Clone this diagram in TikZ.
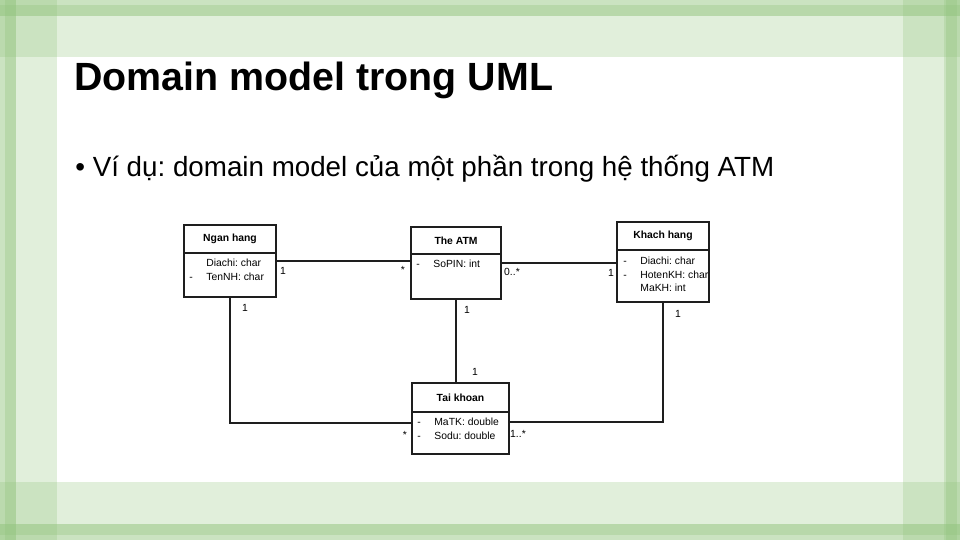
\documentclass[tikz,border=0pt]{standalone}
\usepackage{fontspec}
\setmainfont{Liberation Sans}
\usetikzlibrary{positioning,calc}
\definecolor{slGreen}{RGB}{146,196,125}
\definecolor{umlLine}{RGB}{30,30,30}
\frenchspacing

\begin{document}
\begin{tikzpicture}[x=0.02cm,y=-0.02cm,
      band/.style={fill=slGreen,fill opacity=0.27},
      stripe/.style={fill=slGreen,fill opacity=0.33},
      head/.style={draw=umlLine,line width=0.6pt,outer sep=0pt,inner sep=0pt,
                   font=\fontsize{5.9pt}{7pt}\selectfont\bfseries},
      body/.style={draw=umlLine,line width=0.6pt,outer sep=0pt,inner sep=0pt},
      attrs/.style={anchor=north west,inner sep=0pt,
                    font=\fontsize{5.9pt}{7.65pt}\selectfont},
      mult/.style={inner sep=0pt,font=\fontsize{5.9pt}{7pt}\selectfont},
      assoc/.style={draw=umlLine,line width=0.6pt}]
    \useasboundingbox (0,0) rectangle (960,540);
    \fill[white] (0,0) rectangle (960,540);
    % slide frame
    \fill[band] (0,0) rectangle (960,57);
    \fill[band] (0,0) rectangle (960,16);
    \fill[stripe] (0,5) rectangle (960,16);
    \fill[band] (0,482) rectangle (960,540);
    \fill[band] (0,524) rectangle (960,540);
    \fill[stripe] (0,524) rectangle (960,535);
    \fill[band] (0,0) rectangle (57,540);
    \fill[band] (0,0) rectangle (16,540);
    \fill[stripe] (5,0) rectangle (16,540);
    \fill[band] (903,0) rectangle (960,540);
    \fill[band] (944,0) rectangle (960,540);
    \fill[stripe] (946,0) rectangle (957,540);

    \node[anchor=base west,inner sep=0pt,font=\fontsize{22.4pt}{26pt}\selectfont\bfseries]
      (slideTitle) at (74,91) {Domain model trong UML};
    \node[anchor=base west,inner sep=0pt,font=\fontsize{15.8pt}{19pt}\selectfont]
      (slideBullet) at (75,177) {• Ví dụ: domain model của một phần trong hệ thống ATM};

    % classes
    \node[head,minimum width=1.84cm,minimum height=0.56cm] (nhTitle) at (230,239) {Ngan hang};
    \node[body,minimum width=1.84cm,minimum height=0.88cm,below=0pt of nhTitle] (nhAttr) {};
    \node[attrs] (nhList) at ($(nhAttr.north west)+(5,4)$)
      {\begin{tabular}{@{}p{0.34cm}@{}l@{}} & Diachi: char\\ - & TenNH: char\end{tabular}};

    \node[head,minimum width=1.80cm,minimum height=0.54cm] (atmTitle) at (456,240.5) {The ATM};
    \node[body,minimum width=1.80cm,minimum height=0.90cm,below=0pt of atmTitle] (atmAttr) {};
    \node[attrs] (atmList) at ($(atmAttr.north west)+(5,4)$)
      {\begin{tabular}{@{}p{0.34cm}@{}l@{}} - & SoPIN: int\end{tabular}};

    \node[head,minimum width=1.84cm,minimum height=0.56cm] (khTitle) at (663,236) {Khach hang};
    \node[body,minimum width=1.84cm,minimum height=1.04cm,below=0pt of khTitle] (khAttr) {};
    \node[attrs] (khList) at ($(khAttr.north west)+(6,5)$)
      {\begin{tabular}{@{}p{0.34cm}@{}l@{}} - & Diachi: char\\ - & HotenKH: char\\ & MaKH: int\end{tabular}};

    \node[head,minimum width=1.94cm,minimum height=0.58cm] (tkTitle) at (460.5,397.5) {Tai khoan};
    \node[body,minimum width=1.94cm,minimum height=0.84cm,below=0pt of tkTitle] (tkAttr) {};
    \node[attrs] (tkList) at ($(tkAttr.north west)+(5,4)$)
      {\begin{tabular}{@{}p{0.34cm}@{}l@{}} - & MaTK: double\\ - & Sodu: double\end{tabular}};

    % associations
    \coordinate (nhRight) at ($(nhAttr.north east)+(0,8)$);
    \coordinate (atmRight) at ($(atmAttr.north east)+(0,9)$);
    \coordinate (tkLeft) at ($(tkAttr.north west)+(0,11)$);
    \coordinate (tkRight) at ($(tkAttr.north east)+(0,10)$);
    \draw[assoc] (nhRight) -- (nhRight -| atmAttr.west);
    \draw[assoc] (atmRight) -- (atmRight -| khAttr.west);
    \draw[assoc] (nhAttr.south) |- (tkLeft);
    \draw[assoc] (atmAttr.south) -- (atmAttr.south |- tkTitle.north);
    \draw[assoc] (khAttr.south) |- (tkRight);

    \node[mult] (mNhAtm) at (283,271) {1};
    \node[mult] (mAtmNh) at (403,270) {*};
    \node[mult] (mAtmKh) at (512,272) {0..*};
    \node[mult] (mKhAtm) at (611,273) {1};
    \node[mult] (mNhTk) at (245,308) {1};
    \node[mult] (mAtmTk) at (467,310) {1};
    \node[mult] (mTkAtm) at (475,372) {1};
    \node[mult] (mKhTk) at (678,314) {1};
    \node[mult] (mTkNh) at (405,435) {*};
    \node[mult] (mTkKh) at (518,434) {1..*};
  \end{tikzpicture}
\end{document}
